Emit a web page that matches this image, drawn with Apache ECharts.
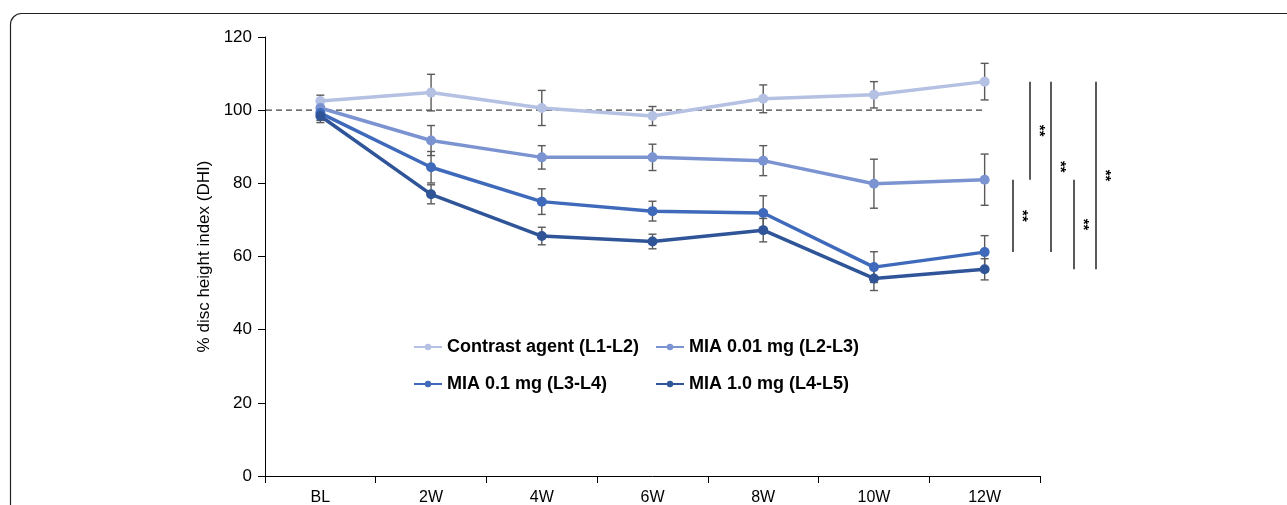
<!DOCTYPE html>
<html>
<head>
<meta charset="utf-8">
<script src="https://cdn.jsdelivr.net/npm/echarts@6/dist/echarts.min.js"></script>
<style>
  html, body { margin: 0; padding: 0; background: #fff; }
  #chart { width: 1287px; height: 505px; }
</style>
</head>
<body>
<div id="chart"></div>
<script>
  // data
  const categories = ["BL", "2W", "4W", "6W", "8W", "10W", "12W"];
  const seriesNames = ["Contrast agent (L1-L2)", "MIA 0.01 mg (L2-L3)", "MIA 0.1 mg (L3-L4)", "MIA 1.0 mg (L4-L5)"];
  const seriesColors = ["#b4c1e3", "#7b94d1", "#3f69ba", "#2f5598"];

  const contrast = [102.5, 104.8, 100.6, 98.4, 103.1, 104.2, 107.8];
  const contrastErr = [1.6, 5.0, 4.8, 2.6, 3.8, 3.6, 5.0];
  const mia001 = [100.6, 91.7, 87.1, 87.1, 86.2, 79.9, 81.0];
  const mia001Err = [1.8, 4.1, 3.2, 3.6, 4.1, 6.7, 7.0];
  const mia01 = [99.2, 84.4, 75.0, 72.4, 71.9, 57.1, 61.2];
  const mia01Err = [2.0, 4.3, 3.5, 2.7, 4.7, 4.2, 4.5];
  const mia10 = [98.4, 77.0, 65.6, 64.1, 67.2, 54.0, 56.5];
  const mia10Err = [1.8, 2.6, 2.4, 2.0, 3.2, 3.3, 2.9];

  const yTicks = [0, 20, 40, 60, 80, 100, 120];
  const referenceLevel = 100;

  // significance brackets at 12W: [series a, series b, label]
  const sigPairs = [
    [1, 2, "**"],
    [0, 1, "**"],
    [0, 2, "**"],
    [1, 3, "**"],
    [0, 3, "**"],
  ];

  const means = [contrast, mia001, mia01, mia10];
  const errs = [contrastErr, mia001Err, mia01Err, mia10Err];

  const font = "Liberation Sans, Arial, sans-serif";
  const chart = echarts.init(document.getElementById("chart"));

  const lineSeries = means.map((vals, k) => ({
    name: seriesNames[k],
    type: "line",
    data: vals,
    symbol: "circle",
    symbolSize: 10,
    color: seriesColors[k],
    lineStyle: { width: 3.5, color: seriesColors[k] },
    itemStyle: { color: seriesColors[k] },
    z: 3,
    animation: false,
  }));

  // error bars sit under the lines so markers stay clean
  const errorSeries = means.map((vals, k) => ({
    type: "custom",
    name: seriesNames[k] + " err",
    data: vals.map((v, i) => [i, v, errs[k][i]]),
    z: 2,
    silent: true,
    animation: false,
    renderItem: function (params, api) {
      const i = api.value(0);
      const v = api.value(1);
      const e = api.value(2);
      const top = api.coord([i, v + e]);
      const bot = api.coord([i, v - e]);
      const cap = 4;
      const style = { stroke: "#5a5a5a", lineWidth: 1.4 };
      return {
        type: "group",
        children: [
          { type: "line", shape: { x1: top[0], y1: top[1], x2: bot[0], y2: bot[1] }, style: style },
          { type: "line", shape: { x1: top[0] - cap, y1: top[1], x2: top[0] + cap, y2: top[1] }, style: style },
          { type: "line", shape: { x1: bot[0] - cap, y1: bot[1], x2: bot[0] + cap, y2: bot[1] }, style: style },
        ],
      };
    },
  }));

  const legendPos = [[413, 338], [655, 338], [413, 375], [655, 375]];
  const legends = seriesNames.map((n, k) => ({
    data: [n],
    left: legendPos[k][0],
    top: legendPos[k][1],
    padding: 0,
    itemWidth: 28,
    itemHeight: 8,
    itemGap: 5,
    selectedMode: false,
    textStyle: { fontFamily: font, fontSize: 18, fontWeight: "bold", color: "#000", padding: [0, 0, 0, 0] },
  }));

  const option = {
    backgroundColor: "#fff",
    animation: false,
    textStyle: { fontFamily: font },
    legend: legends,
    grid: { left: 265, top: 37, width: 775, height: 439, outerBoundsMode: "none", containLabel: false },
    xAxis: {
      type: "category",
      data: categories,
      boundaryGap: true,
      axisLine: { lineStyle: { color: "#000", width: 1 } },
      axisTick: { show: true, length: 7, lineStyle: { color: "#000" } },
      axisLabel: { fontFamily: font, fontSize: 16, color: "#000", margin: 14 },
      splitLine: { show: false },
    },
    yAxis: {
      type: "value",
      min: yTicks[0],
      max: yTicks[yTicks.length - 1],
      interval: yTicks[1] - yTicks[0],
      name: "% disc height index (DHI)",
      nameLocation: "middle",
      nameGap: 50,
      nameRotate: 90,
      nameTextStyle: { fontFamily: font, fontSize: 17, color: "#000" },
      axisLine: { show: true, lineStyle: { color: "#000", width: 1 } },
      axisTick: { show: true, length: 7, lineStyle: { color: "#000" } },
      axisLabel: { fontFamily: font, fontSize: 17, color: "#000", margin: 13 },
      splitLine: { show: false },
    },
    series: lineSeries.concat(errorSeries),
  };

  chart.setOption(option);

  // overlay: frame, reference line, significance brackets
  const last = categories.length - 1;
  const yRef = chart.convertToPixel({ yAxisIndex: 0 }, referenceLevel);
  const xLast = chart.convertToPixel({ xAxisIndex: 0 }, categories[last]);
  const bracketX = [1013, 1030, 1051, 1074, 1096];

  const graphics = [
    {
      type: "rect",
      shape: { x: 10.5, y: 13.5, width: 1300, height: 600, r: 11 },
      style: { fill: "none", stroke: "#222", lineWidth: 1.2 },
      silent: true,
    },
    {
      type: "line",
      shape: { x1: 266, y1: yRef, x2: xLast, y2: yRef },
      style: { stroke: "#404040", lineWidth: 1.4, lineDash: [6, 4] },
      z: 1,
      silent: true,
    },
  ];

  sigPairs.forEach((p, j) => {
    const ya = chart.convertToPixel({ yAxisIndex: 0 }, means[p[0]][last]);
    const yb = chart.convertToPixel({ yAxisIndex: 0 }, means[p[1]][last]);
    const x = bracketX[j];
    graphics.push({
      type: "line",
      shape: { x1: x, y1: ya, x2: x, y2: yb },
      style: { stroke: "#000", lineWidth: 1.3 },
      silent: true,
    });
    graphics.push({
      type: "text",
      x: x + 9,
      y: (ya + yb) / 2,
      rotation: -Math.PI / 2,
      style: {
        text: p[2],
        font: "bold 15px " + font,
        fill: "#000",
        align: "center",
        verticalAlign: "middle",
      },
      silent: true,
    });
  });

  chart.setOption({ graphic: graphics });
</script>
</body>
</html>
